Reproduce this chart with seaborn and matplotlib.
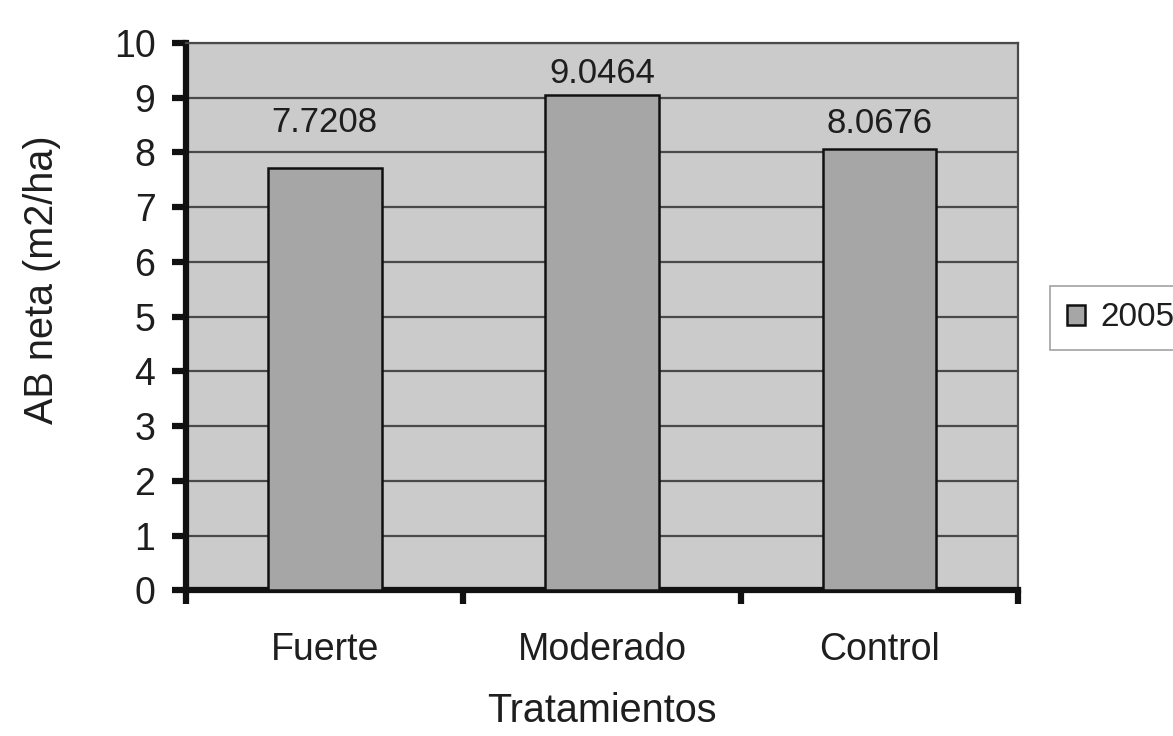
import matplotlib
matplotlib.use("Agg")
import matplotlib.pyplot as plt
import seaborn as sns
import pandas as pd
from matplotlib.ticker import FixedLocator, NullFormatter

categories = ["Fuerte", "Moderado", "Control"]
values = [7.7208, 9.0464, 8.0676]
series_name = "2005"
value_labels = ["7.7208", "9.0464", "8.0676"]
label_offsets = [0.82, 0.40, 0.46]

sns.set_theme(style="white")
plt.rcParams["font.family"] = ["Liberation Sans", "DejaVu Sans"]

df = pd.DataFrame({"Tratamientos": categories, "val": values, "serie": series_name})

fig = plt.figure(figsize=(11.73, 7.36), dpi=100)
ax = fig.add_axes([0.1586, 0.198, 0.7094, 0.7436])
ax.set_facecolor("#cbcbcb")

sns.barplot(data=df, x="Tratamientos", y="val", hue="serie", palette=["#a6a6a6"],
            width=0.41, edgecolor="#111111", linewidth=1.8, ax=ax, zorder=3)

ax.set_ylim(0, 10)
ax.set_xlim(-0.5, 2.5)
ax.set_yticks(range(0, 11))
ax.yaxis.grid(True, color="#4a4a4a", linewidth=1.6, zorder=0)
ax.set_axisbelow(True)

# category labels centred, tick marks at category boundaries
ax.set_xticks(range(len(categories)))
ax.set_xticklabels(categories)
ax.tick_params(axis="x", which="major", bottom=False, length=0, pad=30, labelsize=27,
               labelcolor="#1e1e1e")
ax.xaxis.set_minor_locator(FixedLocator([-0.5, 0.5, 1.5, 2.5]))
ax.xaxis.set_minor_formatter(NullFormatter())
ax.tick_params(axis="x", which="minor", bottom=True, length=10, width=4.5,
               color="#111111", direction="out")
ax.tick_params(axis="y", left=True, length=10, width=4.5, color="#111111", direction="out",
               labelsize=27, pad=12, labelcolor="#1e1e1e")

for side in ["left", "bottom"]:
    ax.spines[side].set_linewidth(4.5)
    ax.spines[side].set_color("#111111")
for side in ["top", "right"]:
    ax.spines[side].set_linewidth(1.6)
    ax.spines[side].set_color("#4a4a4a")

for i, (v, lab, off) in enumerate(zip(values, value_labels, label_offsets)):
    ax.text(i, v + off, lab, ha="center", va="center", fontsize=25, color="#1e1e1e", zorder=4)

ax.set_xlabel("Tratamientos", fontsize=28.5, labelpad=17, color="#1e1e1e")
ax.set_ylabel("AB neta (m2/ha)", fontsize=28.5, color="#1e1e1e")
ax.yaxis.set_label_coords(-0.150, 0.567)

leg = ax.legend(loc="center left", bbox_to_anchor=(1050 / 1173, 0.568),
                bbox_transform=fig.transFigure, frameon=True, fontsize=24,
                handlelength=0.55, handleheight=0.55, handletextpad=0.45, borderpad=0.5,
                borderaxespad=0, fancybox=False, edgecolor="#8a8a8a")
leg.get_frame().set_linewidth(1.2)
for t in leg.get_texts():
    t.set_color("#1e1e1e")

fig.savefig("out.png", dpi=100, facecolor="white")
